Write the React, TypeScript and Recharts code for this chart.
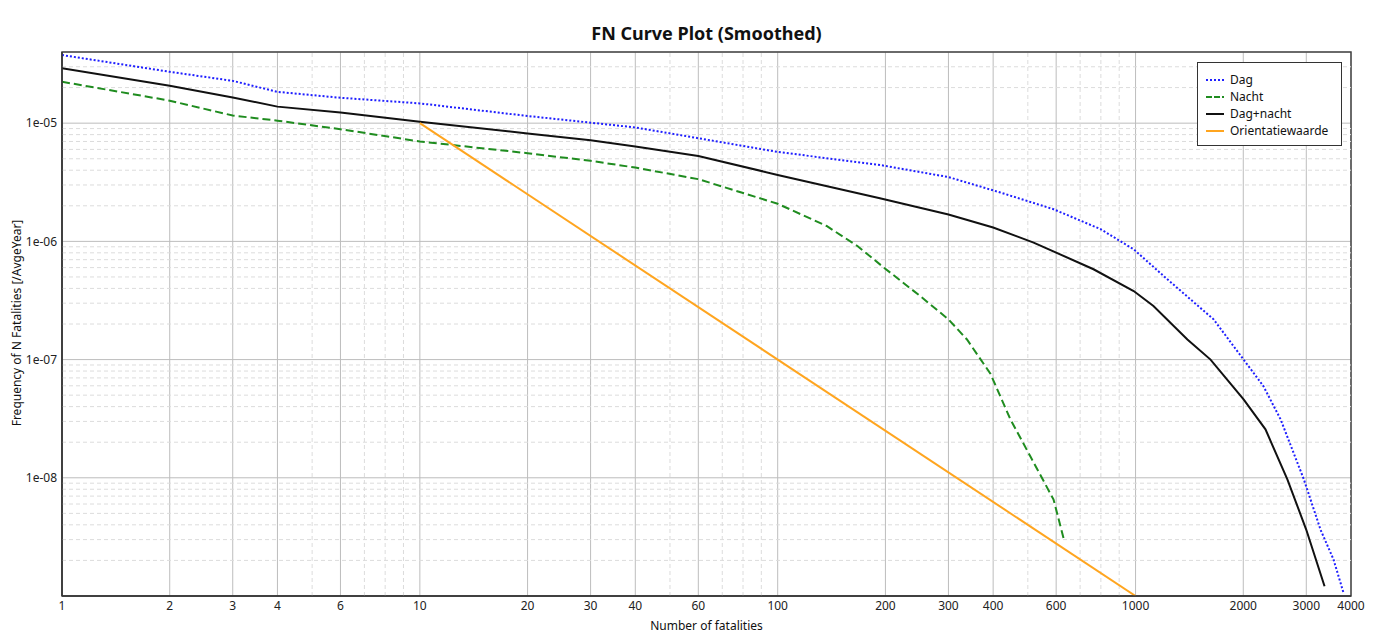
import React from 'react';
import {
  LineChart, Line, XAxis, YAxis, CartesianGrid, ReferenceLine, ReferenceArea, Legend
} from 'recharts';

// values (N = number of fatalities, F = frequency per year)
const dagN = [1, 2, 3, 4, 6, 10, 20, 30, 40, 60, 100, 193, 300, 419, 590, 798, 988, 1227, 1652, 2004, 2276, 2543, 2953, 3289, 3574, 3810];
const dagF = [3.77e-5, 2.72e-5, 2.28e-5, 1.84e-5, 1.64e-5, 1.47e-5, 1.15e-5, 1.01e-5, 9.2e-6, 7.46e-6, 5.71e-6, 4.43e-6, 3.5e-6, 2.59e-6, 1.87e-6, 1.27e-6, 8.57e-7, 4.78e-7, 2.19e-7, 1.0e-7, 5.97e-8, 3.12e-8, 9.7e-9, 3.63e-9, 2.04e-9, 1.07e-9];

const nachtN = [1, 2, 3, 4, 6, 10, 20, 30, 40, 60, 100, 137, 167, 198, 250, 300, 338, 393, 447, 508, 590, 629];
const nachtF = [2.24e-5, 1.55e-5, 1.16e-5, 1.05e-5, 8.89e-6, 7.0e-6, 5.57e-6, 4.8e-6, 4.21e-6, 3.36e-6, 2.08e-6, 1.35e-6, 9.14e-7, 6.0e-7, 3.45e-7, 2.19e-7, 1.48e-7, 7.6e-8, 3.12e-8, 1.52e-8, 6.55e-9, 3.1e-9];

const totaalN = [1, 2, 3, 4, 6, 10, 20, 30, 40, 60, 100, 193, 300, 400, 519, 763, 988, 1122, 1396, 1620, 2004, 2307, 2656, 3000, 3374];
const totaalF = [2.92e-5, 2.07e-5, 1.65e-5, 1.38e-5, 1.23e-5, 1.03e-5, 8.18e-6, 7.18e-6, 6.35e-6, 5.28e-6, 3.65e-6, 2.32e-6, 1.69e-6, 1.31e-6, 9.77e-7, 5.81e-7, 3.8e-7, 2.84e-7, 1.48e-7, 1.0e-7, 4.6e-8, 2.57e-8, 9.7e-9, 3.63e-9, 1.21e-9];

const orientatieN = [10, 1000];
const orientatieF = [1e-5, 1e-9];

const xTicks = [1, 2, 3, 4, 6, 10, 20, 30, 40, 60, 100, 200, 300, 400, 600, 1000, 2000, 3000, 4000];
const xMinorGrid = [5, 7, 8, 9, 50, 70, 80, 90, 500, 700, 800, 900];
const yTicks = [1e-5, 1e-6, 1e-7, 1e-8];
const yDecades = [1e-9, 1e-8, 1e-7, 1e-6, 1e-5];
const yMultipliers = [2, 3, 4, 5, 6, 7, 8, 9];

const toPoints = (ns: number[], fs: number[]) => ns.map((n, i) => ({ n, f: fs[i] }));

const dagData = toPoints(dagN, dagF);
const nachtData = toPoints(nachtN, nachtF);
const totaalData = toPoints(totaalN, totaalF);
const orientatieData = toPoints(orientatieN, orientatieF);

// minor dashed grid, skipping the one that sits on the top border
const yMinorGrid = yDecades
  .flatMap(d => yMultipliers.map(m => m * d))
  .filter(v => v < 3.9e-5);

const series = [
  { name: 'Dag', color: '#1f1fff', dash: '2 2' },
  { name: 'Nacht', color: '#1f8c1f', dash: '8 4' },
  { name: 'Dag+nacht', color: '#111111', dash: undefined },
  { name: 'Orientatiewaarde', color: '#ffa51f', dash: undefined },
];

const formatY = (v: number) => {
  const e = Math.round(Math.log10(v));
  return `1e-${String(-e).padStart(2, '0')}`;
};

const FONT = '"Noto Sans", "Open Sans", sans-serif';

const LegendBox = () => (
  <div style={{ border: '1px solid #333', background: '#fff', padding: '8px 10px 6px 7px', width: 126 }}>
    {series.map(s => (
      <div key={s.name} style={{ display: 'flex', alignItems: 'center', height: 17, fontSize: 12, color: '#111' }}>
        <svg width={20} height={6} style={{ marginRight: 5 }}>
          <line x1={1} y1={3} x2={19} y2={3} stroke={s.color} strokeWidth={2} strokeDasharray={s.dash === '8 4' ? '6 2' : s.dash} />
        </svg>
        {s.name}
      </div>
    ))}
  </div>
);

export default function App() {
  return (
    <div style={{ position: 'absolute', left: 0, top: 0, width: 1376, height: 635, background: '#fff', fontFamily: FONT }}>
      <div style={{ position: 'absolute', left: 62, width: 1289, top: 20, lineHeight: '26px', textAlign: 'center', fontSize: 18, fontWeight: 700, color: '#111' }}>
        FN Curve Plot (Smoothed)
      </div>
      <div style={{ position: 'absolute', left: 62, width: 1289, top: 618, lineHeight: '16px', textAlign: 'center', fontSize: 12, color: '#111' }}>
        Number of fatalities
      </div>
      <div style={{ position: 'absolute', left: 17 - 200, top: 323 - 8, width: 400, lineHeight: '16px', textAlign: 'center', fontSize: 12, color: '#111', transform: 'rotate(-90deg)' }}>
        Frequency of N Fatalities [/AvgeYear]
      </div>

      <LineChart width={1376} height={635} margin={{ top: 52, right: 25, bottom: 0, left: 0 }}>
        {xMinorGrid.map(v => (
          <ReferenceLine key={`xm-${v}`} x={v} stroke="#dcdcdc" strokeDasharray="4 3" />
        ))}
        {yMinorGrid.map(v => (
          <ReferenceLine key={`ym-${v}`} y={v} stroke="#dcdcdc" strokeDasharray="4 3" />
        ))}
        <CartesianGrid stroke="#bdbdbd" />
        <XAxis
          dataKey="n"
          type="number"
          scale="log"
          domain={[1, 4000]}
          ticks={xTicks}
          interval={0}
          allowDataOverflow
          height={39}
          tickLine={false}
          tickSize={0}
          tickMargin={5}
          axisLine={{ stroke: '#333', strokeWidth: 1.5 }}
          tick={{ fontSize: 12, fill: '#222' }}
        />
        <YAxis
          dataKey="f"
          type="number"
          scale="log"
          domain={[1e-9, 4e-5]}
          ticks={yTicks}
          interval={0}
          allowDataOverflow
          width={62}
          tickLine={false}
          tickSize={2}
          tickMargin={3}
          tickFormatter={formatY}
          axisLine={{ stroke: '#333', strokeWidth: 1.5 }}
          tick={{ fontSize: 12, fill: '#222' }}
        />
        <ReferenceArea x1={1} x2={4000} y1={1e-9} y2={4e-5} fill="none" stroke="#444" strokeWidth={1.5} />
        <Line data={dagData} dataKey="f" name="Dag" type="linear" stroke={series[0].color} strokeWidth={2} strokeDasharray={series[0].dash} dot={false} isAnimationActive={false} />
        <Line data={nachtData} dataKey="f" name="Nacht" type="linear" stroke={series[1].color} strokeWidth={2} strokeDasharray={series[1].dash} dot={false} isAnimationActive={false} />
        <Line data={totaalData} dataKey="f" name="Dag+nacht" type="linear" stroke={series[2].color} strokeWidth={2} dot={false} isAnimationActive={false} />
        <Line data={orientatieData} dataKey="f" name="Orientatiewaarde" type="linear" stroke={series[3].color} strokeWidth={2} dot={false} isAnimationActive={false} />
        <Legend
          layout="horizontal"
          verticalAlign="middle"
          align="center"
          wrapperStyle={{ left: 1197, top: 62, width: 'auto', height: 'auto' }}
          content={() => <LegendBox />}
        />
      </LineChart>
    </div>
  );
}
